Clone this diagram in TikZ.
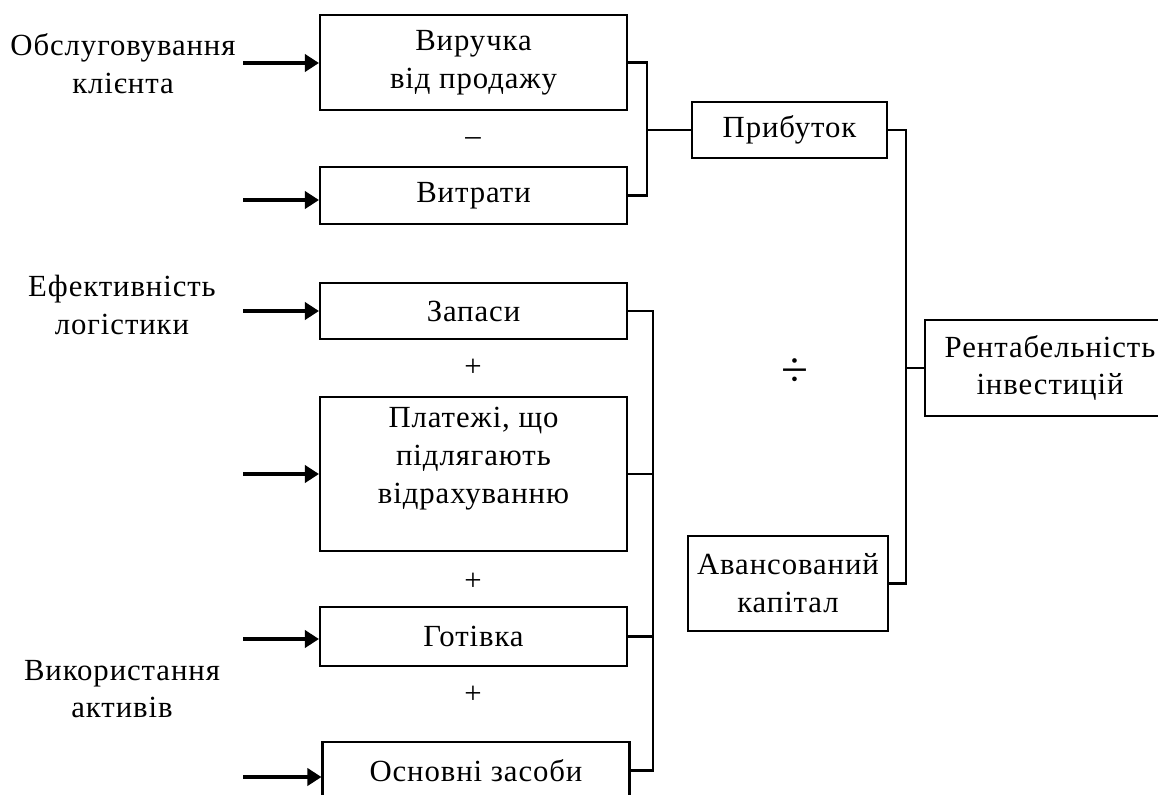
\documentclass[tikz,border=0pt]{standalone}
\usepackage{fontspec}
\setmainfont{Liberation Serif}[LetterSpace=3]
\usetikzlibrary{arrows.meta}
\begin{document}
\begin{tikzpicture}[x=0.02cm,y=-0.02cm,font=\fontsize{17.5}{21.5}\selectfont,>={Triangle[length=0.28cm,width=0.34cm]}]
\tikzset{box/.style={draw,line width=1.2pt,align=center,inner sep=0pt,minimum width=6.14cm},
  link/.style={line width=1.2pt},
  feed/.style={->,line width=2pt}}
\useasboundingbox (0,0) rectangle (1158,794);
\clip (0,0) rectangle (1158,794);
\node[box,minimum height=1.9cm] (rev) at (473.5,62.5) {Виручка\\від продажу};
\node[box,minimum height=1.14cm] (cost) at (473.5,195.5) {Витрати};
\node[box,minimum height=1.12cm] (inv) at (473.5,311) {Запаси};
\node[box,minimum height=3.08cm] (recv) at (473.5,474) {Платежі, що\\підлягають\\відрахуванню\\ \mbox{}};
\node[box,minimum height=1.18cm] (cash) at (473.5,636.5) {Готівка};
\node[box,minimum height=1.14cm] (fixed) at (476,770.5) {Основні засоби};
\node[box,minimum width=3.9cm,minimum height=1.12cm] (profit) at (789.5,130) {Прибуток};
\node[box,minimum width=4cm,minimum height=1.9cm] (cap) at (788,583.5) {Авансований\\капітал};
\node[box,minimum width=5cm,minimum height=1.92cm] (roi) at (1050,368) {Рентабельність\\інвестицій};
\node[align=center] (serv) at (123,64) {Обслуговування\\клієнта};
\node[align=center] (logi) at (122,305) {Ефективність\\логістики};
\node[align=center] (asset) at (122,689) {Використання\\активів};
\foreach \b/\y in {rev/63,cost/200,inv/311,recv/474,cash/639,fixed/777}{\coordinate (a-\b) at (243,\y); \draw[feed] (a-\b) -- (a-\b -| \b.west);}
\coordinate (b1) at (647,130);
\draw[link] (rev.east) -| (b1) |- (cost.east);
\draw[link] (b1) -- (profit.west);
\coordinate (b2) at (653,0);
\draw[link] (inv.east) -| (b2 |- fixed.east) -- (fixed.east);
\foreach \n in {recv,cash} \draw[link] (\n.east) -- (\n.east -| b2);
\coordinate (b3) at (906,0);
\draw[link] (profit.east) -| (b3 |- cap.east) -- (cap.east);
\draw[link] (b3 |- roi.west) -- (roi.west);
\foreach \x/\y/\s/\n in {473/142/–/minus,473/368/+/plusa,473/582/+/plusb,473/695/+/plusc}{\node (\n) at (\x,\y) {\s};}
\node[font=\fontsize{28}{30}\selectfont] (div) at (795,373) {÷};
\end{tikzpicture}
\end{document}
